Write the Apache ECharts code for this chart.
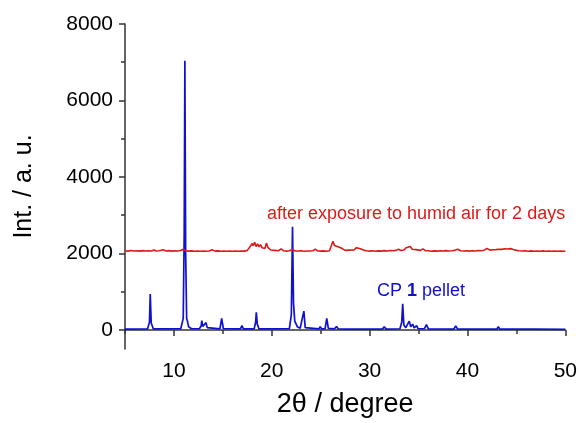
<!DOCTYPE html>
<html>
<head>
<meta charset="utf-8">
<script src="https://cdn.jsdelivr.net/npm/echarts@6/dist/echarts.min.js"></script>
<style>
  html, body { margin: 0; padding: 0; background: #fff; }
  #main { width: 580px; height: 423px; }
</style>
</head>
<body>
<div id="main"></div>
<script>
// tick positions
var xMajor = [10, 20, 30, 40, 50];
var xMinor = [5, 15, 25, 35, 45];
var yMajor = [0, 2000, 4000, 6000, 8000];
var yMinor = [1000, 3000, 5000, 7000];

// CP 1 pellet  [2theta, intensity]
var pellet = [
  [5,20],[7.3,25],[7.5,200],[7.58,940],[7.68,180],[7.9,25],
  [10.7,30],[10.95,300],[11.05,2500],[11.12,7040],[11.2,2000],[11.3,300],[11.38,230],[11.5,80],[11.8,30],
  [12.6,30],[12.78,100],[12.85,240],[12.95,90],[13.15,80],[13.28,190],[13.4,60],[13.6,25],
  [14.7,25],[14.88,300],[15.05,30],
  [16.8,25],[16.95,110],[17.1,25],
  [18.2,25],[18.35,200],[18.42,460],[18.52,150],[18.7,25],
  [19.4,25],[19.55,60],[19.7,25],
  [21.8,30],[22.0,400],[22.12,2700],[22.22,700],[22.35,230],[22.5,240],[22.62,80],[22.9,40],
  [23.1,40],[23.28,490],[23.42,60],[23.6,25],
  [24.8,25],[24.95,80],[25.1,25],
  [25.45,30],[25.62,300],[25.78,40],
  [26.4,25],[26.62,90],[26.8,25],
  [27.9,20],[28.05,40],[28.2,20],
  [28.85,20],[29.0,70],[29.15,20],[29.4,20],[29.55,60],[29.7,20],
  [31.3,20],[31.5,80],[31.7,20],
  [33.1,30],[33.28,200],[33.38,680],[33.5,120],[33.7,60],[33.9,100],[34.05,230],[34.2,80],[34.4,150],[34.55,50],[34.8,110],[34.95,30],
  [35.6,30],[35.8,140],[36.0,25],
  [38.6,20],[38.8,100],[39.0,20],
  [40.5,20],[40.7,50],[40.9,20],
  [42.0,20],[42.2,40],[42.4,20],
  [43.0,20],[43.15,80],[43.3,20],
  [44.6,20],[44.8,40],[45.0,20],
  [46.4,20],[46.6,35],[46.8,20],
  [50,15]
];

// after exposure to humid air for 2 days
var humid = [
  [5,2070],[5.3,2060],[5.6,2075],[5.9,2065],[6.2,2070],[6.5,2060],[6.8,2072],[7.1,2062],[7.4,2070],[7.7,2065],
  [7.95,2090],[8.2,2065],[8.5,2070],[8.9,2095],[9.2,2065],[9.5,2072],[9.8,2060],[10.1,2070],[10.4,2062],[10.7,2075],
  [10.95,2110],[11.2,2068],[11.5,2060],[11.8,2066],[12.1,2058],[12.4,2064],[12.7,2056],[13.0,2062],[13.3,2058],[13.6,2065],
  [13.9,2095],[14.2,2060],[14.5,2066],[14.8,2058],[15.1,2064],[15.4,2056],[15.7,2062],[16.0,2055],[16.3,2063],[16.6,2057],
  [16.9,2065],[17.2,2060],[17.5,2080],[17.7,2150],[17.85,2120],[18.0,2260],[18.1,2200],[18.25,2290],[18.4,2180],[18.55,2250],
  [18.7,2170],[18.85,2230],[19.0,2150],[19.15,2200],[19.3,2130],[19.45,2270],[19.6,2160],[19.75,2110],[19.9,2090],[20.1,2070],
  [20.3,2080],[20.5,2065],[20.7,2070],[20.95,2120],[21.2,2070],[21.5,2060],[21.8,2070],[22.1,2100],[22.4,2065],[22.7,2062],
  [23.0,2070],[23.3,2058],[23.6,2065],[23.9,2062],[24.2,2070],[24.45,2110],[24.7,2065],[25.0,2060],[25.3,2066],[25.6,2058],
  [25.9,2070],[26.1,2120],[26.25,2320],[26.4,2210],[26.55,2230],[26.7,2180],[26.9,2200],[27.1,2140],[27.3,2100],[27.5,2080],
  [27.7,2070],[27.9,2085],[28.1,2070],[28.4,2090],[28.65,2150],[28.85,2100],[29.05,2120],[29.25,2140],[29.45,2080],[29.7,2070],
  [30.0,2060],[30.3,2068],[30.6,2058],[30.9,2066],[31.2,2060],[31.5,2072],[31.8,2064],[32.1,2078],[32.4,2068],[32.7,2080],
  [32.95,2110],[33.2,2075],[33.5,2090],[33.75,2150],[33.95,2110],[34.15,2180],[34.35,2110],[34.55,2160],[34.75,2100],[34.95,2140],
  [35.2,2080],[35.45,2120],[35.7,2070],[36.0,2068],[36.3,2058],[36.6,2066],[36.9,2060],[37.2,2070],[37.5,2062],[37.8,2072],
  [38.1,2064],[38.4,2070],[38.7,2080],[39.0,2110],[39.3,2070],[39.6,2062],[39.9,2070],[40.2,2060],[40.5,2068],[40.8,2062],
  [41.1,2075],[41.4,2070],[41.7,2085],[42.0,2130],[42.3,2085],[42.6,2095],[42.9,2100],[43.2,2110],[43.5,2105],[43.8,2120],
  [44.1,2115],[44.4,2125],[44.7,2100],[45.0,2080],[45.3,2070],[45.6,2062],[45.9,2070],[46.2,2058],[46.5,2066],[46.8,2056],
  [47.1,2064],[47.4,2058],[47.7,2066],[48.0,2055],[48.3,2062],[48.6,2056],[48.9,2064],[49.2,2055],[49.5,2062],[49.8,2056],[50,2060]
];

var axisColor = '#333';
var font = 'Arial, "Liberation Sans", sans-serif';

var myChart = echarts.init(document.getElementById('main'));
var option = {
  animation: false,
  backgroundColor: '#fff',
  grid: { left: 125, right: 14, top: 24, bottom: 72 },
  xAxis: [
    {
      type: 'value', min: 5, max: 50,
      name: '2θ / degree', nameLocation: 'middle', nameGap: 42,
      nameTextStyle: { fontSize: 27, color: '#000', fontFamily: font },
      axisLine: { lineStyle: { color: axisColor, width: 1.5 } },
      axisTick: { customValues: xMajor, length: 6, lineStyle: { color: axisColor, width: 1.5 } },
      axisLabel: { customValues: xMajor, margin: 12, fontSize: 21, color: '#000', fontFamily: font,
        formatter: function (v) { return String(v); } },
      splitLine: { show: false }
    },
    {
      type: 'value', min: 5, max: 50, position: 'bottom', offset: 0,
      axisLine: { show: false },
      axisTick: { customValues: xMinor, length: 4, lineStyle: { color: axisColor, width: 1.5 } },
      axisLabel: { show: false },
      splitLine: { show: false }
    }
  ],
  yAxis: [
    {
      type: 'value', min: -500, max: 8000,
      name: 'Int. / a. u.', nameLocation: 'middle', nameGap: 88,
      nameTextStyle: { fontSize: 25, color: '#000', fontFamily: font },
      axisLine: { show: true, lineStyle: { color: axisColor, width: 1.5 } },
      axisTick: { show: true, customValues: yMajor, length: 6, lineStyle: { color: axisColor, width: 1.5 } },
      axisLabel: { customValues: yMajor, margin: 12, fontSize: 21, color: '#000', fontFamily: font,
        formatter: function (v) { return String(v); } },
      splitLine: { show: false }
    },
    {
      type: 'value', min: -500, max: 8000, position: 'left', offset: 0,
      axisLine: { show: false },
      axisTick: { show: true, customValues: yMinor, length: 4, lineStyle: { color: axisColor, width: 1.5 } },
      axisLabel: { show: false },
      splitLine: { show: false }
    }
  ],
  series: [
    {
      name: 'CP 1 pellet', type: 'line', data: pellet,
      showSymbol: false, symbol: 'none',
      lineStyle: { color: '#1010d0', width: 1.7 }
    },
    {
      name: 'after exposure to humid air for 2 days', type: 'line', data: humid,
      showSymbol: false, symbol: 'none',
      lineStyle: { color: '#dd1a1a', width: 1.6 }
    }
  ],
  graphic: [
    {
      type: 'text', left: 267, top: 205,
      style: { text: 'after exposure to humid air for 2 days', fill: '#dd1a1a', font: '18px ' + font }
    },
    {
      type: 'text', left: 377, top: 282,
      style: {
        text: '{n|CP }{b|1}{n| pellet}',
        rich: {
          n: { fill: '#1010d0', font: '18px ' + font },
          b: { fill: '#1010d0', font: 'bold 18px ' + font }
        }
      }
    }
  ]
};

myChart.setOption(option);
</script>
</body>
</html>
